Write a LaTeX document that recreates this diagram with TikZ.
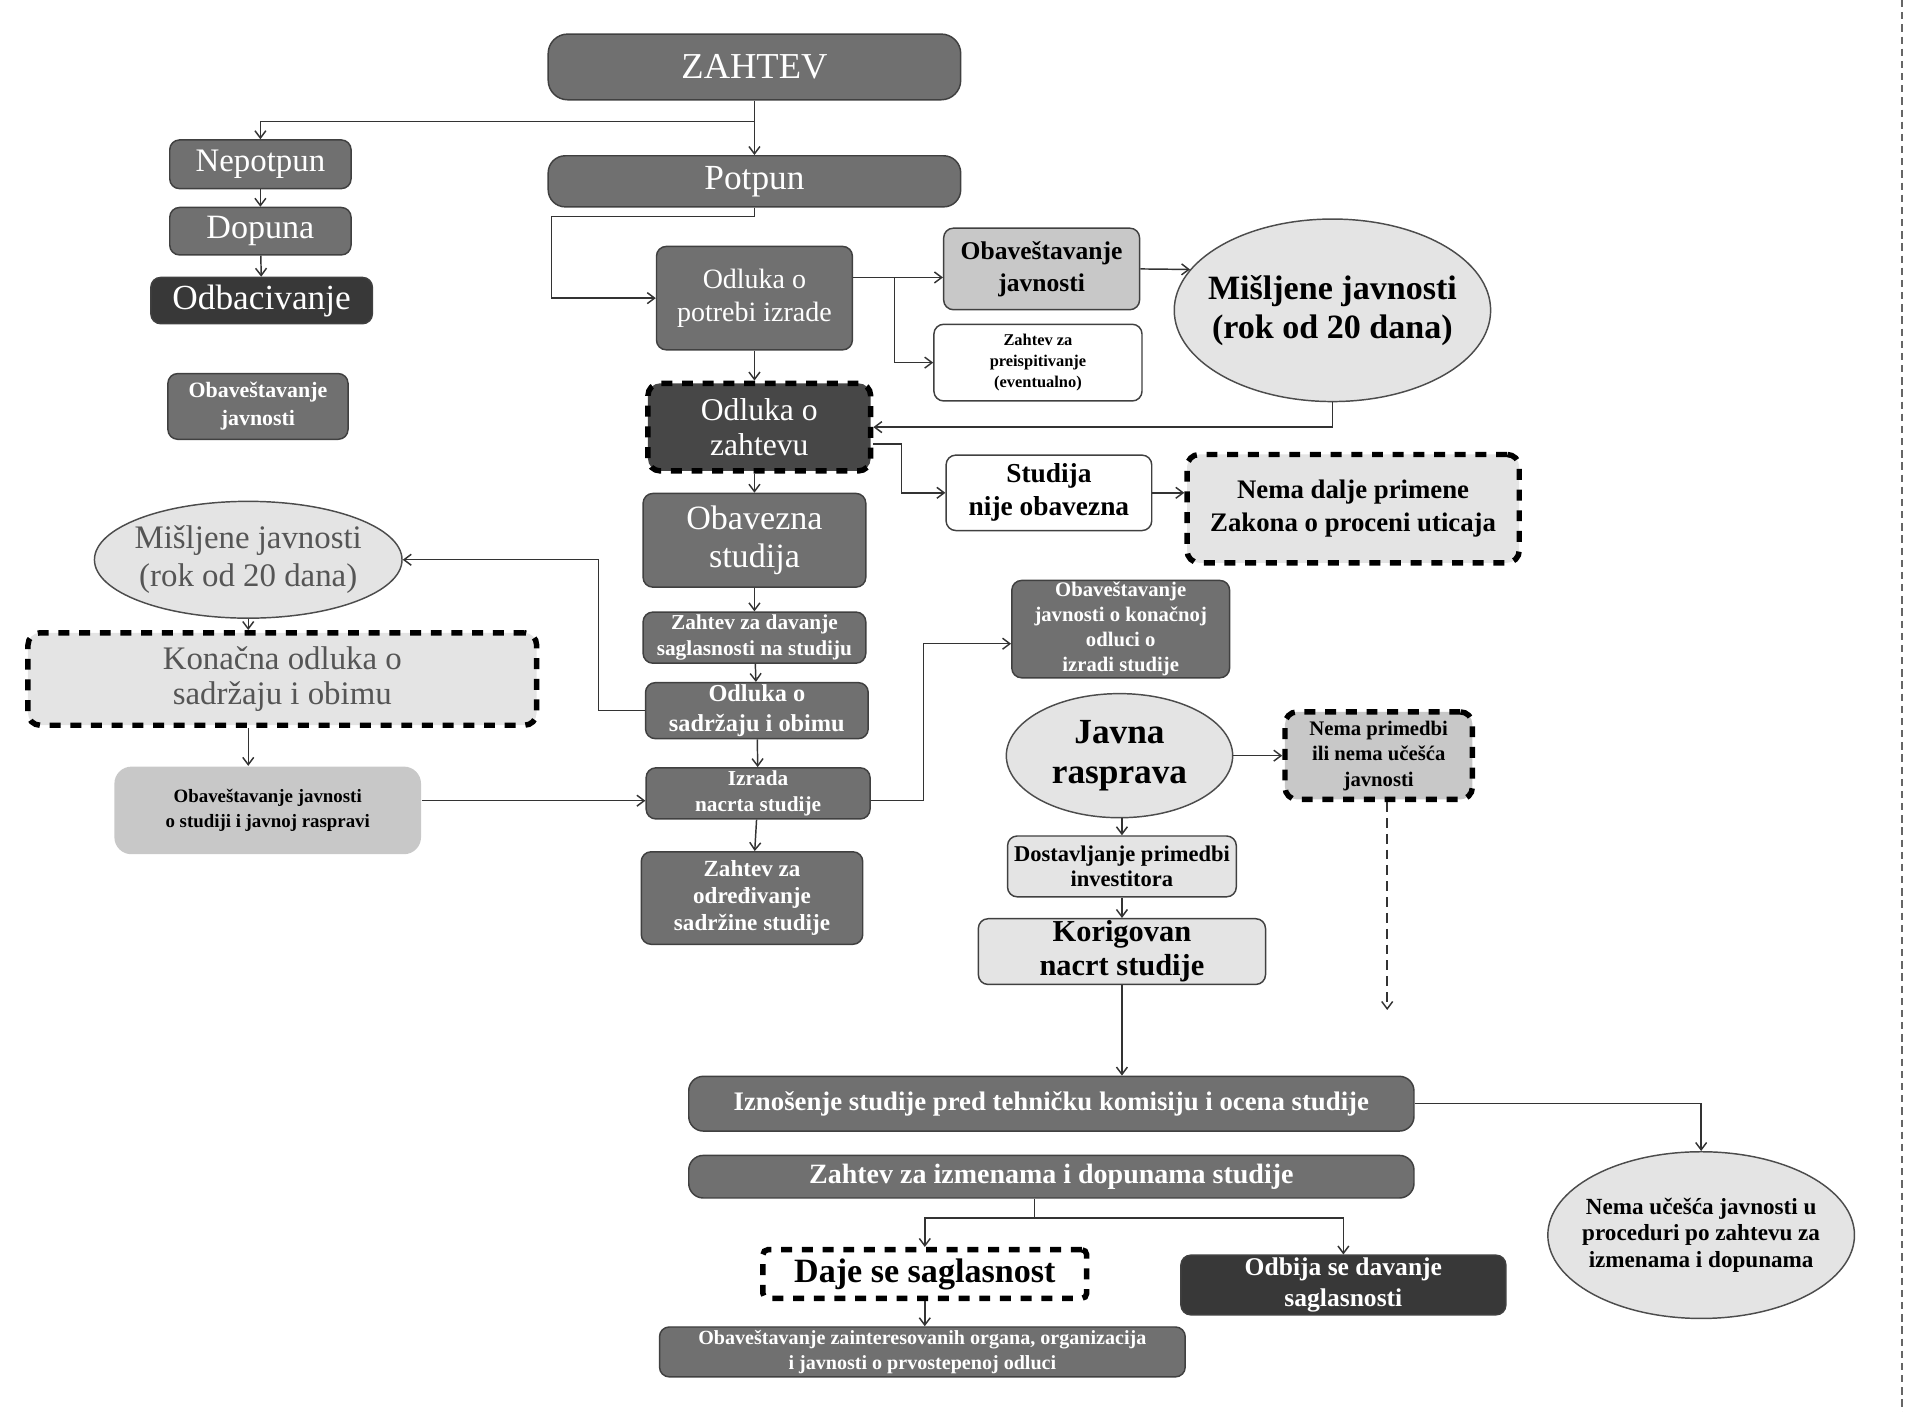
\documentclass[tikz,border=0pt]{standalone}
\usepackage{fontspec}
\setmainfont{Liberation Serif}
\usetikzlibrary{shapes.geometric,arrows.meta}

\definecolor{boxgray}{HTML}{707070}
\definecolor{boxdark}{HTML}{383838}
\definecolor{boxzah}{HTML}{474747}
\definecolor{boxlight}{HTML}{E4E4E4}
\definecolor{boxmid}{HTML}{C8C8C8}
\definecolor{txtgray}{HTML}{555555}

\newcommand{\fsz}[2]{\fontsize{#1}{#2}\selectfont}

\begin{document}
\begin{tikzpicture}[x=1pt, y=-1pt,
	box/.style={draw=black!75, line width=1.2pt, rounded corners=8pt, align=center, inner sep=0pt},
	gbox/.style={box, fill=boxgray, text=white},
	dbox/.style={box, fill=boxdark, text=white},
	lbox/.style={box, fill=boxlight},
	mbox/.style={box, fill=boxmid},
	wbox/.style={box, fill=white},
	dashbox/.style={draw=black, line width=4.5pt, dash pattern=on 9pt off 8pt, rounded corners=10pt},
	oval/.style={draw=black!70, line width=1.2pt, ellipse, fill=boxlight, align=center, inner sep=0pt},
	arr/.style={draw=black!80, line width=1.2pt, -{Straight Barb[length=6pt,width=9pt]}},
	conn/.style={draw=black!80, line width=1.2pt}
]
	\useasboundingbox (0, 0) rectangle (1568, 1160);

	% left column
	\draw (620, 55) 	node[gbox, rounded corners=16pt, minimum width=339pt, minimum height=54pt, font=\fsz{30}{32}] 	(zahtev) 	{ZAHTEV};
	\draw (214, 135) 	node[gbox, minimum width=149pt, minimum height=40pt, font=\fsz{27}{30}] 	(nepotpun) 	{Nepotpun};
	\draw (214, 190) 	node[gbox, minimum width=149pt, minimum height=39pt, font=\fsz{28}{30}] 	(dopuna) 	{Dopuna};
	\draw (215, 247) 	node[dbox, minimum width=182pt, minimum height=38pt, font=\fsz{29}{31}] 	(odbac) 	{Odbacivanje};
	\draw (212, 334) 	node[gbox, minimum width=148pt, minimum height=54pt, font=\bfseries\fsz{18}{23}] 	(obavL) 	{Obaveštavanje\\javnosti};
	\draw (204, 460) 	node[oval, inner xsep=-4pt, minimum width=252pt, minimum height=96pt, text=txtgray, font=\fsz{27}{31}] 	(misl2) 	{Mišljene javnosti\\(rok od 20 dana)};
	\draw (232, 558) 	node[lbox, dashbox, minimum width=418pt, minimum height=76pt, text=txtgray, font=\fsz{27}{29}] 	(konacna) 	{Konačna odluka o\\sadržaju i obimu};
	\draw (220, 666) 	node[mbox, draw=none, rounded corners=14pt, minimum width=252pt, minimum height=72pt, font=\bfseries\fsz{15.5}{21}] 	(obavStud) 	{Obaveštavanje javnosti\\o studiji i javnoj raspravi};

	% middle column
	\draw (620, 149) 	node[gbox, rounded corners=14pt, minimum width=339pt, minimum height=42pt, font=\fsz{29}{31}] 	(potpun) 	{Potpun};
	\draw (620, 245) 	node[gbox, minimum width=161pt, minimum height=85pt, font=\fsz{23}{27}] 	(potrebi) 	{Odluka o\\potrebi izrade};
	\draw (624, 351) 	node[dbox, dashbox, fill=boxzah, minimum width=183pt, minimum height=72pt, font=\fsz{26}{29}] 	(odlZah) 	{Odluka o\\zahtevu};
	\draw (620, 444) 	node[gbox, minimum width=183pt, minimum height=77pt, font=\fsz{28}{31}] 	(obavez) 	{Obavezna\\studija};
	\draw (620, 524) 	node[gbox, minimum width=183pt, minimum height=42pt, font=\bfseries\fsz{17.5}{21}] 	(davanje) 	{Zahtev za davanje\\saglasnosti na studiju};
	\draw (622, 584) 	node[gbox, minimum width=183pt, minimum height=46pt, font=\bfseries\fsz{20}{24}] 	(sadrzaj) 	{Odluka o\\sadržaju i obimu};
	\draw (623, 652) 	node[gbox, minimum width=184pt, minimum height=42pt, font=\bfseries\fsz{17.5}{21}] 	(izrada) 	{Izrada\\nacrta studije};
	\draw (618, 738) 	node[gbox, minimum width=182pt, minimum height=76pt, font=\bfseries\fsz{19}{22.5}] 	(odredj) 	{Zahtev za\\određivanje\\sadržine studije};

	% right part
	\draw (856, 221) 	node[mbox, minimum width=161pt, minimum height=67pt, font=\bfseries\fsz{21}{26}] 	(obav1) 	{Obaveštavanje\\javnosti};
	\draw (853, 298) 	node[wbox, minimum width=171pt, minimum height=63pt, font=\bfseries\fsz{13.5}{17}] 	(preisp) 	{Zahtev za\\preispitivanje\\(eventualno)};
	\draw (1095, 255) 	node[oval, inner xsep=-12pt, minimum width=260pt, minimum height=150pt, font=\bfseries\fsz{28}{32}] 	(misl1) 	{Mišljene javnosti\\(rok od 20 dana)};
	\draw (862, 405) 	node[wbox, minimum width=169pt, minimum height=62pt, font=\bfseries\fsz{22.5}{27}] 	(nije) 	{Studija\\nije obavezna};
	\draw (1112, 418) 	node[lbox, dashbox, minimum width=273pt, minimum height=89pt, font=\bfseries\fsz{22}{27}] 	(nema) 	{Nema dalje primene\\Zakona o proceni uticaja};
	\draw (921, 517) 	node[gbox, minimum width=179pt, minimum height=80pt, font=\bfseries\fsz{17}{20.5}] 	(obavKon) 	{Obaveštavanje\\javnosti o konačnoj\\odluci o\\izradi studije};
	\draw (920, 621) 	node[oval, minimum width=186pt, minimum height=102pt, font=\bfseries\fsz{29}{33}] 	(javna) 	{Javna\\rasprava};
	\draw (1133, 621) 	node[mbox, dashbox, minimum width=154pt, minimum height=72pt, font=\bfseries\fsz{17}{21}] 	(nemaPrim) 	{Nema primedbi\\ili nema učešća\\javnosti};
	\draw (922, 712) 	node[lbox, minimum width=188pt, minimum height=50pt, font=\bfseries\fsz{18.5}{21}] 	(dostav) 	{Dostavljanje primedbi\\investitora};
	\draw (922, 782) 	node[lbox, minimum width=236pt, minimum height=54pt, font=\bfseries\fsz{25}{28}] 	(korig) 	{Korigovan\\nacrt studije};
	\coordinate (dashEnd) at (1140, 830);

	% bottom part
	\draw (864, 907) 	node[gbox, rounded corners=12pt, minimum width=596pt, minimum height=45pt, font=\bfseries\fsz{22}{24}] 	(iznos) 	{Iznošenje studije pred tehničku komisiju i ocena studije};
	\draw (864, 967) 	node[gbox, rounded corners=12pt, minimum width=596pt, minimum height=35pt, font=\bfseries\fsz{23}{25}] 	(izmen) 	{Zahtev za izmenama i dopunama studije};
	\draw (760, 1047) 	node[dashbox, align=center, inner sep=0pt, rounded corners=4pt, minimum width=266pt, minimum height=40pt, font=\bfseries\fsz{28}{30}] 	(daje) 	{Daje se saglasnost};
	\draw (1104, 1056) 	node[dbox, minimum width=267pt, minimum height=49pt, font=\bfseries\fsz{21}{25}] 	(odbija) 	{Odbija se davanje\\saglasnosti};
	\draw (1398, 1015) 	node[oval, inner xsep=-11pt, minimum width=252pt, minimum height=137pt, font=\bfseries\fsz{19}{22}] 	(nemaUc) 	{Nema učešća javnosti u\\proceduri po zahtevu za\\izmenama i dopunama};
	\draw (758, 1111) 	node[gbox, minimum width=432pt, minimum height=41pt, font=\bfseries\fsz{16.5}{20}] 	(obavZ) 	{Obaveštavanje zainteresovanih organa, organizacija\\i javnosti o prvostepenoj odluci};

	% bends
	\coordinate (split1) at (620, 100);
	\coordinate (bend1) at (453, 178);
	\coordinate (split2) at (735, 228);
	\coordinate (bend2) at (741, 365);
	\coordinate (bend3) at (492, 460);
	\coordinate (bend4) at (759, 529);
	\coordinate (split3) at (850, 1001);

	\draw[arr] (zahtev) -- (potpun);
	\draw[arr] (split1) -| (nepotpun.north);
	\draw[arr] (nepotpun) -- (dopuna);
	\draw[arr] (dopuna) -- (odbac);
	\draw[arr] (potpun.south) |- (bend1) |- (potrebi.west);
	\draw[arr] ([yshift=17pt]potrebi.east) -- (obav1.west |- split2);
	\draw[arr] (split2) |- (preisp.west);
	\draw[arr] (obav1.east) -- (misl1.164);
	\draw[arr] (misl1.south) |- (odlZah.east);
	\draw[arr] (potrebi.south) -- (potrebi.south |- odlZah.north);
	\draw[arr] ([yshift=-14pt]odlZah.east) -- (bend2) |- (nije.west);
	\draw[arr] (nije.east) -- (nije.east -| nema.west);
	\draw[arr] (obavez.north |- odlZah.south) -- (obavez.north);
	\draw[arr] (obavez) -- (davanje);
	\draw[arr] (davanje) -- (sadrzaj);
	\draw[arr] (sadrzaj) -- (izrada);
	\draw[arr] (izrada) -- (odredj);
	\draw[arr] (sadrzaj.west) -| (bend3) -- (misl2.east);
	\draw[arr] (misl2.south) -- (misl2.south |- konacna.north);
	\draw[arr] (misl2.south |- konacna.south) -- (misl2.south |- obavStud.north);
	\draw[arr] ([yshift=8pt]obavStud.east) -- ([yshift=8pt]obavStud.east -| izrada.west);
	\draw[arr] ([yshift=-6pt]izrada.east) -| (bend4) -- (bend4 -| obavKon.west);
	\draw[arr] (javna) -- (nemaPrim);
	\draw[arr, dash pattern=on 8pt off 5pt] (nemaPrim.south -| dashEnd) -- (dashEnd);
	\draw[arr] (dostav.north |- javna.south) -- (dostav);
	\draw[arr] (dostav) -- (korig);
	\draw[arr] (korig.south) -- (korig.south |- iznos.north);
	\draw[arr] (iznos.east) -| (nemaUc.north);
	\draw[conn] (izmen.south -| split3) -- (split3);
	\draw[arr] (split3) -| (daje.north);
	\draw[arr] (split3) -| (odbija.north);
	\draw[arr] (daje.south) -- (daje.south |- obavZ.north);

	% frame edge
	\draw[black!60, line width=2pt, dash pattern=on 6pt off 4pt] (1563, 0) -- (1563, 1160);
\end{tikzpicture}
\end{document}
